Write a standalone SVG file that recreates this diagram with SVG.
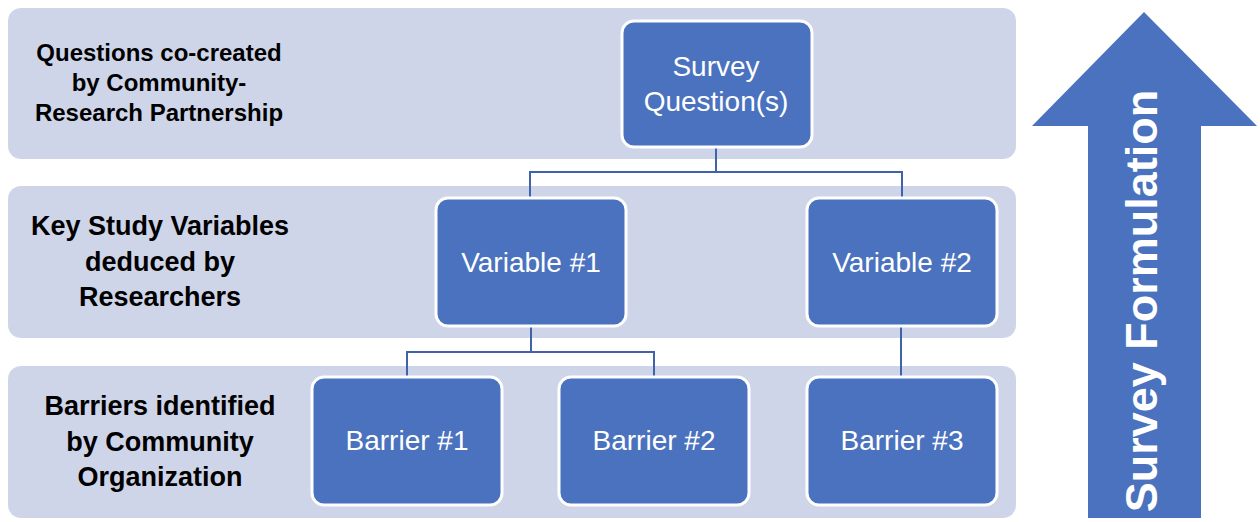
<svg xmlns="http://www.w3.org/2000/svg" width="1260" height="522" viewBox="0 0 1260 522">
<style>
.band{fill:#CFD5E8;}
.node{fill:#4A72BE;stroke:#FFFFFF;stroke-width:3;}
.nt{font-family:"Liberation Sans",Arial,sans-serif;font-size:28px;fill:#FFFFFF;text-anchor:middle;}
.lb{font-family:"Liberation Sans",Arial,sans-serif;font-weight:bold;fill:#000000;text-anchor:middle;}
.conn{fill:none;stroke:#3F63A8;stroke-width:2;}
</style>
<rect width="1260" height="522" fill="#FFFFFF"/>
<g id="bands">
<rect class="band" x="8" y="8" width="1008" height="151" rx="13"/>
<rect class="band" x="8" y="186" width="1008" height="152" rx="13"/>
<rect class="band" x="8" y="366" width="1008" height="152" rx="13"/>
</g>
<g id="labels">
<text class="lb" font-size="24" x="159" y="61">Questions co-created</text>
<text class="lb" font-size="24" x="159" y="91">by Community-</text>
<text class="lb" font-size="24" x="159" y="121">Research Partnership</text>
<text class="lb" font-size="27" x="160" y="235">Key Study Variables</text>
<text class="lb" font-size="27" x="160" y="271">deduced by</text>
<text class="lb" font-size="27" x="160" y="306">Researchers</text>
<text class="lb" font-size="27" x="160" y="415">Barriers identified</text>
<text class="lb" font-size="27" x="160" y="451">by Community</text>
<text class="lb" font-size="27" x="160" y="486">Organization</text>
</g>
<g id="connectors">
<polyline class="conn" points="716,148 716,172 530,172 530,198"/>
<polyline class="conn" points="716,172 902,172 902,198"/>
<polyline class="conn" points="531,326 531,352 407,352 407,378"/>
<polyline class="conn" points="531,352 654,352 654,378"/>
<line class="conn" x1="901" y1="326" x2="901" y2="378"/>
</g>
<g id="survey-question">
<rect class="node" x="622" y="21" width="190" height="126" rx="12"/>
<text class="nt" x="716" y="76">Survey</text>
<text class="nt" x="716" y="111">Question(s)</text>
</g>
<g id="variable-1">
<rect class="node" x="436" y="198" width="190" height="128" rx="12"/>
<text class="nt" x="531" y="272">Variable #1</text>
</g>
<g id="variable-2">
<rect class="node" x="807" y="198" width="190" height="128" rx="12"/>
<text class="nt" x="902" y="272">Variable #2</text>
</g>
<g id="barrier-1">
<rect class="node" x="312" y="377" width="190" height="128" rx="12"/>
<text class="nt" x="407" y="450">Barrier #1</text>
</g>
<g id="barrier-2">
<rect class="node" x="559" y="377" width="190" height="128" rx="12"/>
<text class="nt" x="654" y="450">Barrier #2</text>
</g>
<g id="barrier-3">
<rect class="node" x="807" y="377" width="190" height="128" rx="12"/>
<text class="nt" x="902" y="450">Barrier #3</text>
</g>
<g id="survey-formulation-arrow">
<polygon points="1144,12 1257,126 1201,126 1201,518 1088,518 1088,126 1032,126" fill="#4A72BE"/>
<text transform="translate(1157,301) rotate(-90)" x="0" y="0" font-family="'Liberation Sans',Arial,sans-serif" font-weight="bold" font-size="45" fill="#FFFFFF" text-anchor="middle">Survey Formulation</text>
</g>
</svg>
